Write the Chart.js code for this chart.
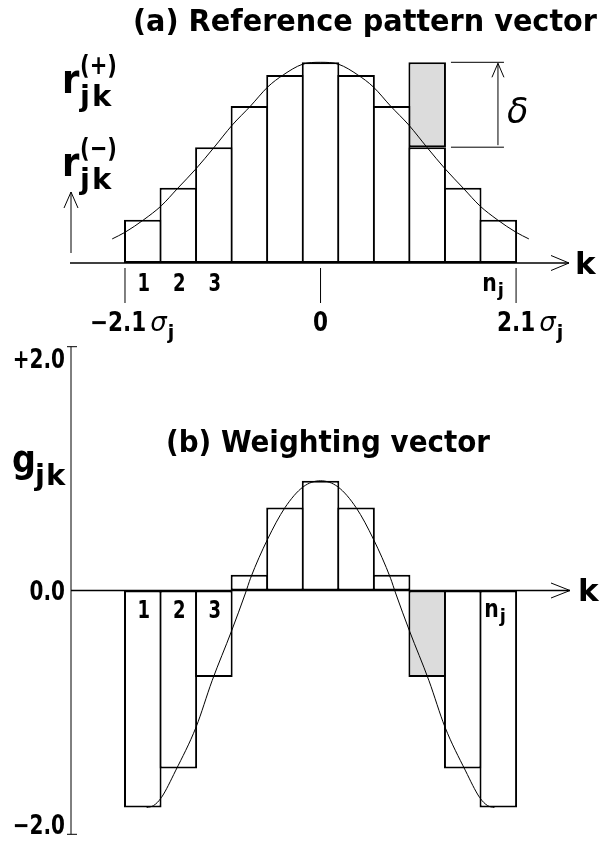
<!DOCTYPE html>
<html lang="en">
<head>
<meta charset="UTF-8">
<title>Reference pattern vector / Weighting vector</title>
<script src="https://cdn.jsdelivr.net/npm/chart.js"></script>
<style>
  body { margin: 0; background: #fff; }
  #wrap { position: relative; width: 601px; height: 845px; }
  #wrap canvas { position: absolute; left: 0; top: 0; }
</style>
</head>
<body>
<div id="wrap">
  <canvas id="weightChart" width="601" height="845"></canvas>
  <canvas id="patternChart" width="601" height="845"></canvas>
</div>
<script>
// bins k = 1..11, bin 6 sits on 0, outer edges at -2.1 sigma / +2.1 sigma
const bins = [1, 2, 3, 4, 5, 6, 7, 8, 9, 10, 11];
const binLabels = ['1', '2', '3'];
const sigmaTickK = [0.5, 6, 11.5];
const sigmaTickLabels = ['\u22122.1', '0', '2.1'];

// (a) reference pattern (centre bin = 1)
const refPattern = [0.216, 0.375, 0.577, 0.782, 0.937, 1.0, 0.937, 0.782, 0.577, 0.375, 0.216];
const shiftedBin = 9;
const shiftedTop = 1.0;
const normalK = [0.14, 0.5, 1.03, 1.52, 1.97, 2.5, 3.0, 3.52, 4.03, 4.52, 4.95, 5.49, 6.0,
                 6.51, 7.05, 7.48, 7.97, 8.48, 9.0, 9.5, 10.03, 10.48, 10.97, 11.5, 11.86];
const normalY = [0.12, 0.153, 0.216, 0.285, 0.37, 0.47, 0.575, 0.688, 0.782, 0.878, 0.937, 0.99, 1.0,
                 0.99, 0.937, 0.878, 0.782, 0.688, 0.575, 0.47, 0.37, 0.285, 0.216, 0.153, 0.12];

// (b) weighting vector
const weights = [-1.78, -1.46, -0.71, 0.13, 0.68, 0.90, 0.68, 0.13, -0.71, -1.46, -1.78];
const weightCurveK = [1.11, 1.3, 1.52, 1.92, 2.5, 2.95, 3.5, 3.89, 4.03, 4.51, 5.0, 5.51, 6.0,
                      6.49, 7.0, 7.49, 7.97, 8.11, 8.5, 9.05, 9.5, 10.08, 10.48, 10.7, 10.89];
const weightCurveY = [-1.78, -1.765, -1.70, -1.48, -1.12, -0.74, -0.33, -0.02, 0.10, 0.42, 0.68, 0.85, 0.90,
                      0.85, 0.68, 0.42, 0.10, -0.02, -0.33, -0.74, -1.12, -1.48, -1.70, -1.765, -1.78];
const weightTicks = [2, 0, -2];
const weightTickLabels = ['+2.0', '0.0', '\u22122.0'];

const FONT = '"DejaVu Sans", sans-serif';
const GRAY = '#dcdcdc';
const BAR_FILL = 1.056;   // bars overlap by one border width so shared edges stay 2px

// text with an optional horizontal squeeze (sx)
function text(ctx, s, x, y, size, o = {}) {
  ctx.font = `${o.italic ? 'italic ' : ''}${o.weight || 'bold'} ${size}px ${FONT}`;
  ctx.textAlign = o.align || 'left';
  ctx.textBaseline = 'alphabetic';
  ctx.letterSpacing = (o.spacing || 0) + 'px';
  const sx = o.sx || 1;
  ctx.save();
  ctx.translate(x, y);
  ctx.scale(sx, 1);
  ctx.fillText(s, 0, 0);
  ctx.restore();
  const w = ctx.measureText(s).width * sx;
  ctx.letterSpacing = '0px';
  return w;
}

// squeeze a string so it spans the given width
function fitText(ctx, s, x, y, size, width) {
  ctx.font = `bold ${size}px ${FONT}`;
  ctx.letterSpacing = '0px';
  const w = ctx.measureText(s).width;
  text(ctx, s, x, y, size, { sx: width / w });
}

function line(ctx, x1, y1, x2, y2, lw) {
  ctx.lineWidth = lw;
  ctx.beginPath();
  ctx.moveTo(x1, y1);
  ctx.lineTo(x2, y2);
  ctx.stroke();
}

function chevronRight(ctx, x, y, len, half) {
  ctx.lineWidth = 1;
  ctx.beginPath();
  ctx.moveTo(x - len, y - half);
  ctx.lineTo(x, y);
  ctx.lineTo(x - len, y + half);
  ctx.stroke();
}

function chevronUp(ctx, x, y, half, len) {
  ctx.lineWidth = 1;
  ctx.beginPath();
  ctx.moveTo(x - half, y + len);
  ctx.lineTo(x, y);
  ctx.lineTo(x + half, y + len);
  ctx.stroke();
}

// r_jk with a (+)/(-) superscript
function rLabel(ctx, base, sign) {
  text(ctx, 'r', 62, base, 40, { sx: 0.88 });
  text(ctx, 'jk', 80, base + 13, 29, { spacing: 2 });
  text(ctx, sign, 80, base - 19, 27, { sx: 0.78 });
}

function nLabel(ctx, cx, base) {
  const w = text(ctx, 'n', cx - 16, base, 24, { sx: 0.85 });
  text(ctx, 'j', cx - 16 + w + 1, base + 5, 18);
}

function sigmaLabel(ctx, lead, x, base) {
  let w = text(ctx, lead, x, base, 26, { sx: 0.83 });
  w += 4;
  w += text(ctx, '\u03c3', x + w, base, 26, { italic: true, weight: 'normal' });
  text(ctx, 'j', x + w + 1, base + 8, 19);
}

const patternDecor = {
  id: 'patternDecor',
  afterDraw(chart) {
    const { ctx, scales: { x, y } } = chart;
    const y0 = y.getPixelForValue(0);
    ctx.save();
    ctx.fillStyle = '#000';
    ctx.strokeStyle = '#000';

    fitText(ctx, '(a) Reference pattern vector', 133, 31, 30, 464);

    // k axis
    line(ctx, 70, y0, 569, y0, 1.6);
    chevronRight(ctx, 569, y0, 18, 7.5);
    text(ctx, 'k', 575, 274, 31);

    // value arrow and its labels
    line(ctx, 71, y0 - 10, 71, 192, 1);
    chevronUp(ctx, 71, 192, 7, 16);
    rLabel(ctx, 93, '(+)');
    rLabel(ctx, 176, '(\u2212)');

    // sigma ticks below the axis
    sigmaTickK.forEach(k => {
      const px = x.getPixelForValue(k);
      line(ctx, px, y0 + 5, px, y0 + 40, 1);
    });
    sigmaLabel(ctx, sigmaTickLabels[0], x.getPixelForValue(sigmaTickK[0]) - 35, 331);
    text(ctx, sigmaTickLabels[1], x.getPixelForValue(sigmaTickK[1]), 331, 26, { align: 'center', sx: 0.83 });
    sigmaLabel(ctx, sigmaTickLabels[2], x.getPixelForValue(sigmaTickK[2]) - 19, 331);

    // bin numbers
    binLabels.forEach((s, i) => {
      text(ctx, s, x.getPixelForValue(bins[i]) + 1, 291, 24, { align: 'center', sx: 0.75 });
    });
    nLabel(ctx, x.getPixelForValue(bins[bins.length - 1]), 291);

    // delta bracket beside the shifted bin
    const xr = x.getPixelForValue(shiftedBin + 0.5);
    const yHi = y.getPixelForValue(shiftedTop);
    const yLo = y.getPixelForValue(refPattern[shiftedBin - 1]);
    line(ctx, xr + 6, yHi, xr + 59, yHi, 1);
    line(ctx, xr + 6, yLo, xr + 59, yLo, 1);
    line(ctx, xr + 53, yHi + 1, xr + 53, yLo - 2, 1);
    chevronUp(ctx, xr + 53, yHi + 1, 6, 14);
    text(ctx, '\u03b4', xr + 62, 123, 35, { italic: true, weight: 'normal' });
    ctx.restore();
  }
};

const weightDecor = {
  id: 'weightDecor',
  afterDraw(chart) {
    const { ctx, scales: { x, y } } = chart;
    const y0 = y.getPixelForValue(0);
    const yTop = y.getPixelForValue(weightTicks[0]);
    const yBot = y.getPixelForValue(weightTicks[2]);
    ctx.save();
    ctx.fillStyle = '#000';
    ctx.strokeStyle = '#000';

    fitText(ctx, '(b) Weighting vector', 166, 452, 30, 324);

    // value axis
    line(ctx, 71, yTop, 71, yBot, 1);
    line(ctx, 67, yTop, 77, yTop, 1);
    line(ctx, 67, yBot, 77, yBot, 1);
    text(ctx, weightTickLabels[0], 65, yTop + 21, 26, { align: 'right', sx: 0.77 });
    text(ctx, weightTickLabels[1], 65, y0 + 9, 26, { align: 'right', sx: 0.77 });
    text(ctx, weightTickLabels[2], 65, yBot, 26, { align: 'right', sx: 0.77 });
    text(ctx, 'g', 12, 472, 38, { sx: 0.88 });
    text(ctx, 'jk', 35, 485, 29, { spacing: 1 });

    // k axis
    line(ctx, 71, y0, 570, y0, 1.6);
    chevronRight(ctx, 570, y0, 19, 7.5);
    text(ctx, 'k', 578, 601, 31);

    binLabels.forEach((s, i) => {
      text(ctx, s, x.getPixelForValue(bins[i]) + 1, 618, 24, { align: 'center', sx: 0.75 });
    });
    nLabel(ctx, x.getPixelForValue(bins[bins.length - 1]) + 2, 617);
    ctx.restore();
  }
};

const xScale = { type: 'linear', min: -1, max: 13, offset: false, display: false, ticks: { stepSize: 1 } };
const barStyle = {
  borderColor: '#000', borderWidth: 2, borderSkipped: false, grouped: false,
  barPercentage: BAR_FILL, categoryPercentage: 1, inflateAmount: 0, clip: false
};
const curveStyle = {
  type: 'line', borderColor: '#000', borderWidth: 1, pointRadius: 0,
  cubicInterpolationMode: 'monotone', fill: false, clip: false, order: 0
};
const baseOptions = {
  responsive: false,
  animation: false,
  events: [],
  plugins: { legend: { display: false }, tooltip: { enabled: false } }
};

new Chart(document.getElementById('patternChart'), {
  type: 'bar',
  data: {
    datasets: [
      Object.assign({ data: normalK.map((k, i) => ({ x: k, y: normalY[i] })) }, curveStyle),
      Object.assign({ data: bins.map((k, i) => ({ x: k, y: refPattern[i] })), backgroundColor: '#fff', order: 1 }, barStyle),
      Object.assign({ data: [{ x: shiftedBin, y: [refPattern[shiftedBin - 1], shiftedTop] }], backgroundColor: GRAY, order: 2 }, barStyle)
    ]
  },
  options: Object.assign({
    layout: { padding: { left: 71.67, right: 31.6, top: 62.3, bottom: 582 } },
    scales: { x: xScale, y: { min: 0, max: 1, display: false } }
  }, baseOptions),
  plugins: [patternDecor]
});

new Chart(document.getElementById('weightChart'), {
  type: 'bar',
  data: {
    datasets: [
      Object.assign({ data: weightCurveK.map((k, i) => ({ x: k, y: weightCurveY[i] })) }, curveStyle),
      Object.assign({
        data: bins.map((k, i) => ({ x: k, y: weights[i] })),
        backgroundColor: bins.map(k => k === shiftedBin ? GRAY : '#fff'),
        order: 1
      }, barStyle)
    ]
  },
  options: Object.assign({
    layout: { padding: { left: 71.67, right: 31.6, top: 346.7, bottom: 10.7 } },
    scales: { x: xScale, y: { min: -2, max: 2, display: false } }
  }, baseOptions),
  plugins: [weightDecor]
});
</script>
</body>
</html>
